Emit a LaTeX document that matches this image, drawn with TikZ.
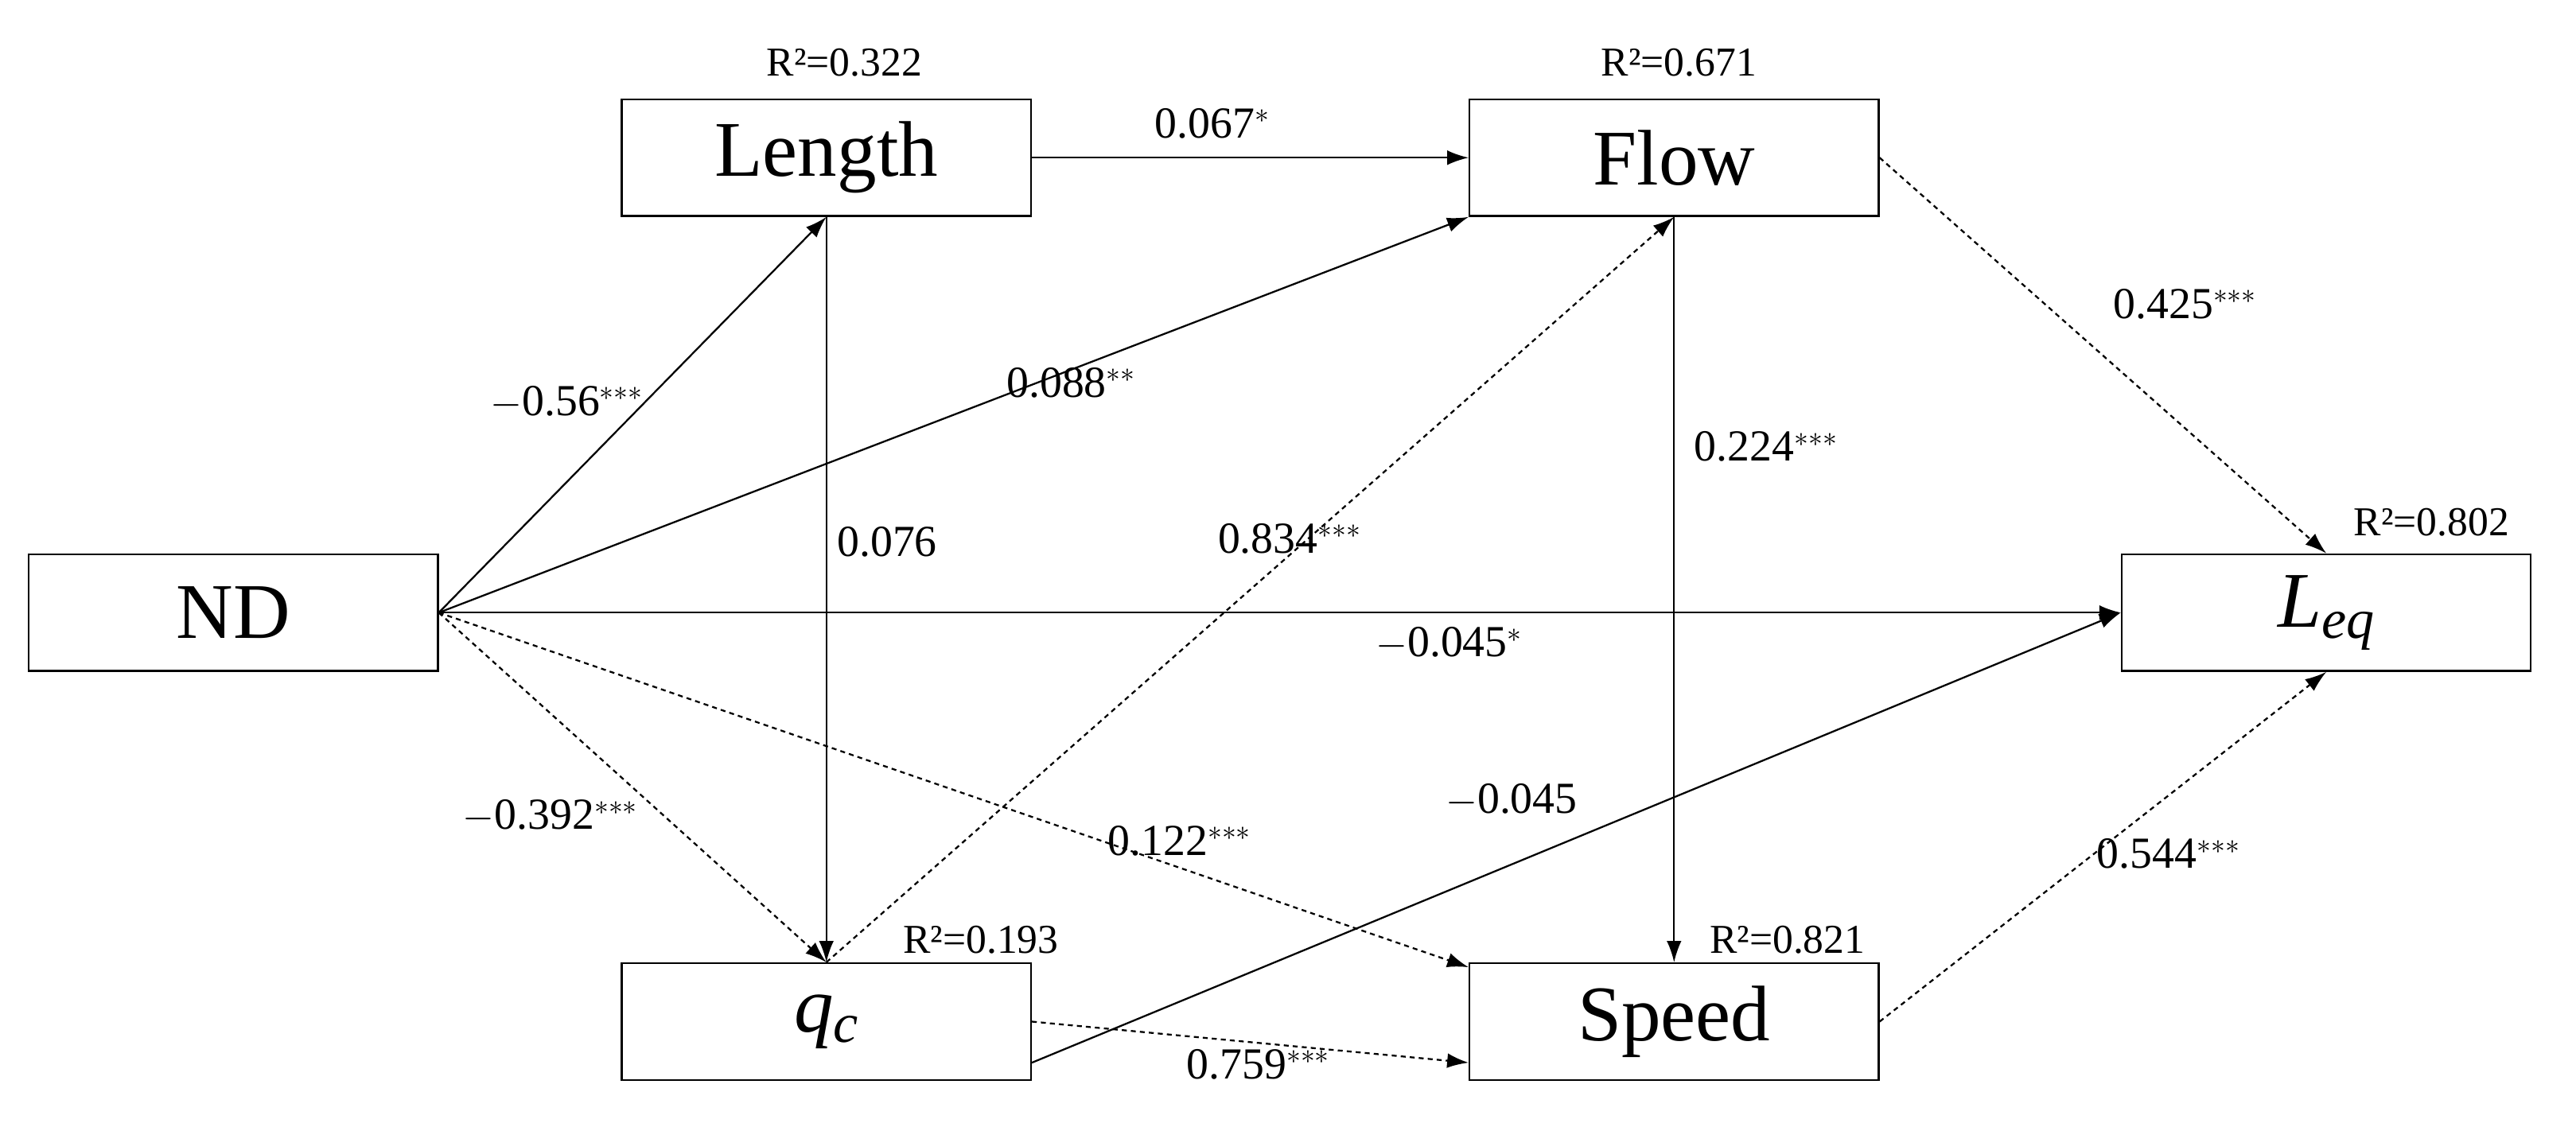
\documentclass[tikz,border=0pt]{standalone}
\usepackage{fontspec}
\setmainfont{Liberation Serif}
\usetikzlibrary{arrows.meta}
\begin{document}
\begin{tikzpicture}[x=1pt,y=-1pt,
  box/.style={draw,line width=1.2pt,minimum width=249pt,minimum height=71pt,inner sep=0,font=\fontsize{48}{50}\selectfont},
  lab/.style={font=\fontsize{27}{29}\selectfont,inner sep=0},
  rl/.style={font=\fontsize{25}{27}\selectfont,inner sep=0},
  ar/.style={line width=1.1pt,-{Latex[length=13pt,width=9pt]}},
  da/.style={ar,dash pattern=on 3pt off 2.5pt}]
\useasboundingbox (0,0) rectangle (1568,686);
\node[box] (nd) at (142,373) {ND};
\node[box] (len) at (503,96) {Length};
\node[box] (flow) at (1019,96) {Flow};
\node[box] (leq) at (1416,373) {\textit{L}\raisebox{-0.3ex}{\fontsize{34}{36}\selectfont\textit{eq}}};
\node[box] (qc) at (503,622) {\textit{q}\raisebox{-0.3ex}{\fontsize{34}{36}\selectfont\textit{c}}};
\node[box] (sp) at (1019,622) {Speed};
\coordinate (nde) at (nd.east);
\draw[ar] (nde) -- (len.south);
\draw[ar] (nde) -- (flow.south west);
\draw[ar] (nde) -- (leq.west);
\draw[da] (nde) -- (qc.north);
\draw[da] (nde) -- ([yshift=-3pt]sp.north west);
\draw[ar] (len.east) -- (flow.west);
\draw[ar] (len.south) -- (qc.north);
\draw[da] (qc.north) -- (flow.south);
\draw[ar] (flow.south) -- (sp.north);
\draw[da] (flow.east) -- (leq.north);
\draw[ar] ([yshift=-25pt]qc.east) -- (leq.west);
\draw[da] (qc.east) -- ([yshift=-25pt]sp.west);
\draw[da] (sp.east) -- (leq.south);
\node[lab] (l1) at (345,245) {$-$0.56$^{***}$};
\node[lab] (l2) at (652,233) {0.088$^{**}$};
\node[lab] (l3) at (882,392) {$-$0.045$^{*}$};
\node[lab] (l4) at (335,497) {$-$0.392$^{***}$};
\node[lab] (l5) at (718,512) {0.122$^{***}$};
\node[lab] (l6) at (738,75) {0.067$^{*}$};
\node[lab] (l7) at (540,330) {0.076};
\node[lab] (l8) at (785,328) {0.834$^{***}$};
\node[lab] (l9) at (1075,272) {0.224$^{***}$};
\node[lab] (l10) at (1330,185) {0.425$^{***}$};
\node[lab] (l11) at (920,487) {$-$0.045};
\node[lab] (l12) at (766,648) {0.759$^{***}$};
\node[lab] (l13) at (1320,520) {0.544$^{***}$};
\node[rl] (r1) at (514,38) {R²=0.322};
\node[rl] (r2) at (1022,38) {R²=0.671};
\node[rl] (r3) at (1480,318) {R²=0.802};
\node[rl] (r4) at (597,572) {R²=0.193};
\node[rl] (r5) at (1088,572) {R²=0.821};
\end{tikzpicture}
\end{document}
